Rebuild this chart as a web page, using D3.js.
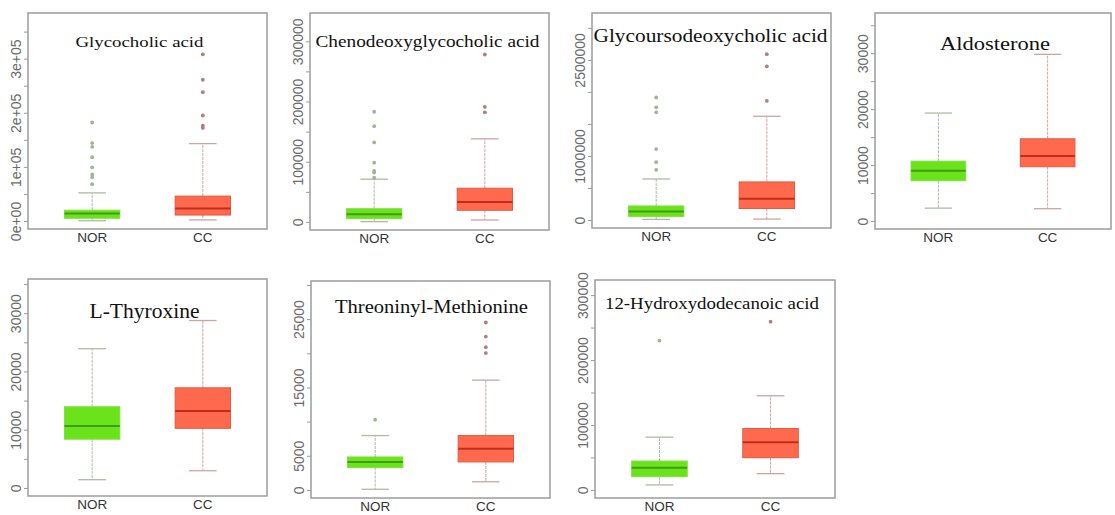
<!DOCTYPE html>
<html>
<head>
<meta charset="utf-8">
<script src="https://cdn.jsdelivr.net/npm/d3@7"></script>
<style>
  body { margin: 0; background: #fff; }
  svg { display: block; }
</style>
</head>
<body>
<script>
// metabolite names, one panel each
const titles = [
  "Glycocholic acid",
  "Chenodeoxyglycocholic acid",
  "Glycoursodeoxycholic acid",
  "Aldosterone",
  "L-Thyroxine",
  "Threoninyl-Methionine",
  "12-Hydroxydodecanoic acid",
];
const groups = ["NOR", "CC"];

// box stats: [lower whisker, q1, median, q3, upper whisker]
const norStats = [
  [500, 5000, 14000, 20000, 52000],
  [500, 5600, 12800, 22000, 71000],
  [10000, 56000, 133000, 220000, 641000],
  [2300, 7200, 9000, 10700, 19300],
  [1420, 8370, 10640, 13940, 23900],
  [100, 3280, 4100, 4830, 7960],
  [7700, 20440, 34240, 44460, 81250],
];
const ccStats = [
  [2000, 11000, 23000, 46000, 143000],
  [3300, 19400, 33000, 56000, 138000],
  [15000, 180000, 333000, 595000, 1620000],
  [2200, 9700, 11600, 14700, 29800],
  [2960, 10240, 13200, 17190, 28740],
  [1200, 4100, 6030, 7960, 16070],
  [25040, 49570, 73580, 94540, 145000],
];
const norOutliers = [
  [68000, 81000, 86000, 99000, 118000, 137000, 144000, 182000],
  [73600, 82000, 84600, 98500, 132000, 159000, 183000],
  [784600, 902600, 1108000, 1682000, 1759000, 1913000],
  [],
  [],
  [10280],
  [230000],
];
const ccOutliers = [
  [172000, 176000, 195000, 238000, 261000, 308000],
  [182000, 191000, 278000],
  [1860000, 2400000, 2590000],
  [],
  [],
  [20030, 20900, 22440, 24500],
  [259000],
];

// y ticks (R pretty steps) and the ones that carry a label
const tickSteps = [50000, 50000, 500000, 5000, 5000, 5000, 50000];
const tickLabels = [
  { 0: "0e+00", 100000: "1e+05", 200000: "2e+05", 300000: "3e+05" },
  { 0: "0", 100000: "100000", 200000: "200000", 300000: "300000" },
  { 0: "0", 1000000: "1000000", 2500000: "2500000" },
  { 0: "0", 10000: "10000", 20000: "20000", 30000: "30000" },
  { 0: "0", 10000: "10000", 20000: "20000", 30000: "30000" },
  { 0: "0", 5000: "5000", 15000: "15000", 25000: "25000" },
  { 0: "0", 100000: "100000", 200000: "200000", 300000: "300000" },
];

// layout: plot frame [x, y, w, h] and title look
const frames = [
  [28, 13, 239, 216],
  [310, 13, 239, 217],
  [592, 13, 239, 215],
  [875, 13, 236, 216],
  [28, 279, 239, 217],
  [311, 281, 239, 217],
  [595, 280, 240, 218],
];
const titleStyle = [
  { dx: -8, base: 34, size: 15, len: 128 },
  { dx: -2, base: 34, size: 16, len: 224 },
  { dx: -1, base: 29, size: 19, len: 234 },
  { dx: 2, base: 37, size: 19, len: 110 },
  { dx: -3, base: 39, size: 20, len: 110 },
  { dx: 1, base: 32, size: 19, len: 193 },
  { dx: -3, base: 29, size: 16, len: 214 },
];

const colors = {
  NOR: { fill: "#6be31b", stroke: "#7fe040", median: "#3e9d12", whisker: "#a9bda3", dot: "#9fb497" },
  CC: { fill: "#ff6a4f", stroke: "#e25a42", median: "#c22d1b", whisker: "#cfa4a0", dot: "#b07f7b" },
};

const svg = d3.select("body").append("svg")
  .attr("width", 1115)
  .attr("height", 515);

titles.forEach((title, p) => {
  const [fx, fy, fw, fh] = frames[p];
  const series = [
    { group: "NOR", stats: norStats[p], out: norOutliers[p] },
    { group: "CC", stats: ccStats[p], out: ccOutliers[p] },
  ];
  const maxVal = d3.max(series, (s) => d3.max([s.stats[4], ...s.out]));
  const ylim = [0, maxVal * 1.2];
  const pad = (ylim[1] - ylim[0]) * 0.04;

  const x = d3.scaleLinear().domain([0.42, 2.58]).range([0, fw]);
  const y = d3.scaleLinear().domain([ylim[0] - pad, ylim[1] + pad]).range([fh, 0]);

  const g = svg.append("g").attr("transform", `translate(${fx},${fy})`);

  // y axis, labels rotated like R's default las=0
  const ticks = d3.range(0, y.domain()[1], tickSteps[p]);
  const axis = g.append("g")
    .call(d3.axisLeft(y)
      .tickValues(ticks)
      .tickSize(4)
      .tickFormat((d) => tickLabels[p][d] || ""));
  axis.select(".domain").remove();
  axis.selectAll("line").attr("stroke", "#9a9a9a");
  axis.selectAll("text")
    .attr("transform", "rotate(-90)")
    .attr("x", 0)
    .attr("y", -7)
    .attr("dy", 0)
    .attr("text-anchor", "middle")
    .attr("fill", "#6a6a6a")
    .attr("font-family", "Liberation Sans, Arial, sans-serif")
    .attr("font-size", 14);

  // group labels
  g.selectAll("text.grp")
    .data(groups)
    .enter()
    .append("text")
    .attr("class", "grp")
    .attr("x", (d, i) => x(i + 1))
    .attr("y", fh + 13)
    .attr("text-anchor", "middle")
    .attr("font-family", "Liberation Sans, Arial, sans-serif")
    .attr("font-size", 13.5)
    .attr("fill", "#333")
    .text((d) => d);

  const boxW = x(1.5) - x(1);
  const capW = boxW / 2;

  series.forEach((s, i) => {
    const c = colors[s.group];
    const cx = x(i + 1);
    const [lo, q1, med, q3, hi] = s.stats;

    // whiskers
    g.append("g")
      .selectAll("line")
      .data([[q3, hi], [q1, lo]])
      .enter()
      .append("line")
      .attr("x1", cx).attr("x2", cx)
      .attr("y1", (d) => y(d[0]))
      .attr("y2", (d) => y(d[1]))
      .attr("stroke", c.whisker)
      .attr("stroke-dasharray", "3,1");

    // caps
    g.append("g")
      .selectAll("line")
      .data([lo, hi])
      .enter()
      .append("line")
      .attr("x1", cx - capW / 2).attr("x2", cx + capW / 2)
      .attr("y1", (d) => y(d)).attr("y2", (d) => y(d))
      .attr("stroke", c.whisker)
      .attr("stroke-width", 1.3);

    // box
    g.append("rect")
      .attr("x", cx - boxW / 2)
      .attr("y", y(q3))
      .attr("width", boxW)
      .attr("height", y(q1) - y(q3))
      .attr("fill", c.fill)
      .attr("stroke", c.stroke)
      .attr("stroke-width", 1);

    // median
    g.append("line")
      .attr("x1", cx - boxW / 2).attr("x2", cx + boxW / 2)
      .attr("y1", y(med)).attr("y2", y(med))
      .attr("stroke", c.median)
      .attr("stroke-width", 2);

    // outliers
    g.append("g")
      .selectAll("circle")
      .data(s.out)
      .enter()
      .append("circle")
      .attr("cx", cx)
      .attr("cy", (d) => y(d))
      .attr("r", 1.9)
      .attr("fill", c.dot);
  });

  // frame
  g.append("rect")
    .attr("width", fw)
    .attr("height", fh)
    .attr("fill", "none")
    .attr("stroke", "#9c9c9c")
    .attr("stroke-width", 1.5);

  // title
  const ts = titleStyle[p];
  g.append("text")
    .attr("x", fw / 2 + ts.dx)
    .attr("y", ts.base)
    .attr("text-anchor", "middle")
    .attr("font-family", "Liberation Serif, Times New Roman, serif")
    .attr("font-size", ts.size)
    .attr("textLength", ts.len)
    .attr("lengthAdjust", "spacingAndGlyphs")
    .attr("fill", "#111")
    .text(title);
});
</script>
</body>
</html>
